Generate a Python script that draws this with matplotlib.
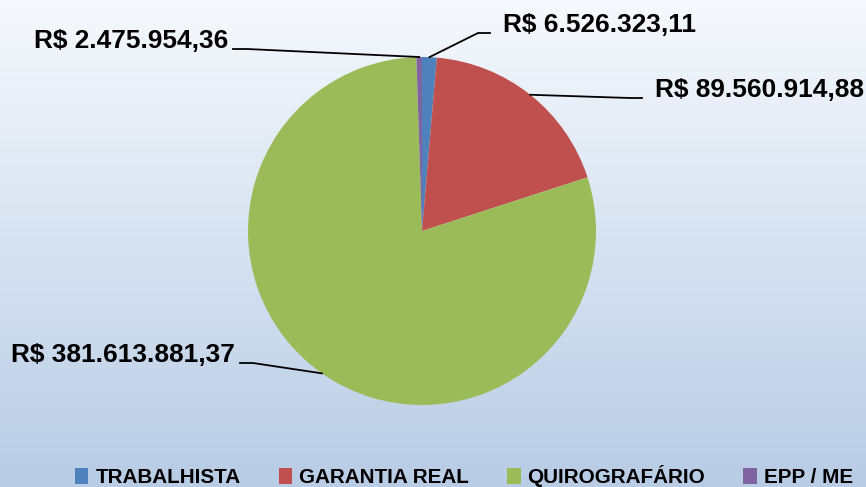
import numpy as np
from matplotlib import pyplot as plt
from matplotlib.lines import Line2D
from matplotlib.patches import Patch

# data
categories = ['TRABALHISTA', 'GARANTIA REAL', 'QUIROGRAFÁRIO', 'EPP / ME']
values = [6526323.11, 89560914.88, 381613881.37, 2475954.36]
labels = ['R$ 6.526.323,11', 'R$ 89.560.914,88', 'R$ 381.613.881,37', 'R$ 2.475.954,36']
colors = ['#4F81BD', '#C0504D', '#9BBB59', '#8064A2']

W, H = 866, 487
plt.rcParams['font.family'] = ['Liberation Sans', 'DejaVu Sans']
plt.rcParams['font.weight'] = 'bold'

fig = plt.figure(figsize=(W / 100, H / 100), dpi=100)

# background gradient
bg = fig.add_axes([0, 0, 1, 1], zorder=0)
top = np.array([246, 249, 253]) / 255
bot = np.array([184, 204, 229]) / 255
t = np.linspace(0, 1, 256)[:, None]
grad = top + (bot - top) * t
bg.imshow(grad[:, None, :].repeat(2, axis=1), aspect='auto', extent=[0, 1, 0, 1])
bg.axis('off')

# pie
cx, cy, r = 422, 231, 174
ax = fig.add_axes([(cx - r) / W, (H - cy - r) / H, 2 * r / W, 2 * r / H], zorder=1)
wedges, _ = ax.pie(values, colors=colors, startangle=90, counterclock=False,
                   radius=1, wedgeprops=dict(linewidth=0))
ax.set_xlim(-1, 1)
ax.set_ylim(-1, 1)
ax.set_aspect('equal')
ax.axis('off')

# label layout in pixels: (text x, text y, ha, line start x, elbow x, line y)
label_pos = [
    (503, 25, 'left', 490, 478, 33),
    (655, 90, 'left', 642, 630, 98),
    (235, 355, 'right', 240, 253, 363),
    (228, 41, 'right', 233, 247, 49),
]

lay = fig.add_axes([0, 0, 1, 1], zorder=2)
lay.set_xlim(0, W)
lay.set_ylim(H, 0)
lay.axis('off')

for w, lab, (tx, ty, ha, sx, ex, ly) in zip(wedges, labels, label_pos):
    mid = np.deg2rad((w.theta1 + w.theta2) / 2)
    px = cx + r * np.cos(mid)
    py = cy - r * np.sin(mid)
    lay.text(tx, ty, lab, ha=ha, va='center', fontsize=18.9, fontweight='bold')
    lay.add_line(Line2D([sx, ex, px], [ly, ly, py], color='black', lw=1.3))

# legend
handles = [Patch(facecolor=c, edgecolor='none') for c in colors]
fig.legend(handles, categories, loc='center left', bbox_to_anchor=(75 / W, 1 - 476 / H),
           ncol=4, frameon=False, handlelength=0.65, handleheight=0.85,
           handletextpad=0.34, columnspacing=1.84, borderaxespad=0, borderpad=0,
           prop=dict(weight='bold', size=14.9))

fig.savefig('out.png', dpi=100)
